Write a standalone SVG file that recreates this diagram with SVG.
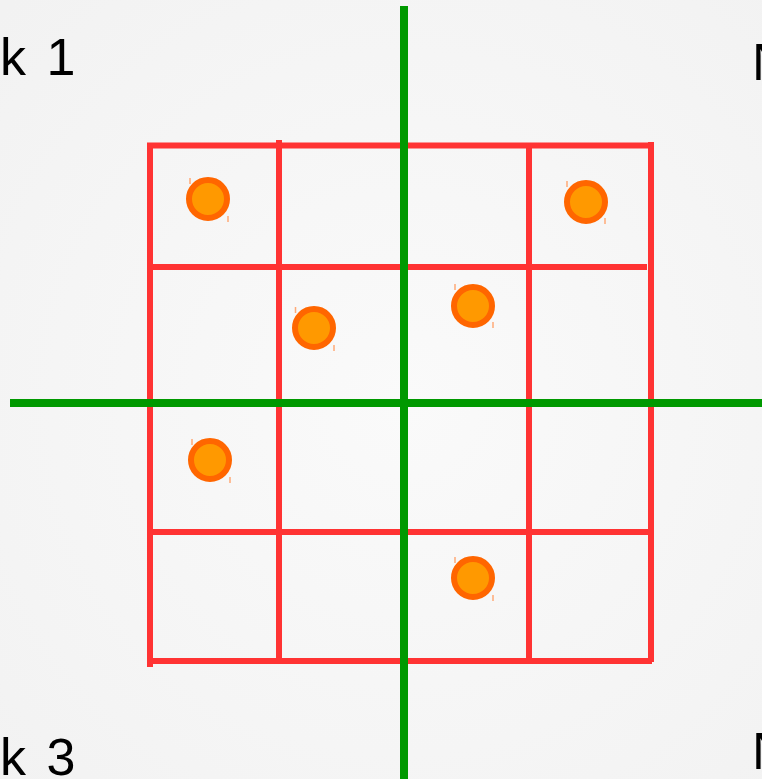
<svg xmlns="http://www.w3.org/2000/svg" width="762" height="779" viewBox="0 0 762 779">
<defs>
<radialGradient id="bg" cx="404" cy="403" r="560" gradientUnits="userSpaceOnUse">
<stop offset="0" stop-color="#fafafa"/>
<stop offset="1" stop-color="#f2f2f2"/>
</radialGradient>
</defs>
<style>
.lbl{font-family:"Liberation Sans",Arial,sans-serif;font-size:52px;fill:#000;word-spacing:6px}
.grid line{stroke:#ff3333;stroke-width:6;stroke-linecap:butt}
.axis line{stroke:#009900;stroke-width:8}
.dot circle{fill:#ff9900;stroke:#ff6600;stroke-width:6}
.dot line{stroke:#ffaa77;stroke-width:1.5}
</style>
<rect x="0" y="0" width="762" height="779" fill="url(#bg)"/>
<g id="labels">
<text class="lbl" x="0" y="75">k 1</text>
<text class="lbl" x="752" y="80">N</text>
<text class="lbl" x="0" y="775">k 3</text>
<text class="lbl" x="752" y="769">N</text>
</g>
<g id="grid" class="grid">
<line x1="150" y1="143" x2="150" y2="667"/>
<line x1="279" y1="140" x2="279" y2="660"/>
<line x1="529" y1="143" x2="529" y2="660"/>
<line x1="651" y1="142" x2="651" y2="662"/>
<line x1="147" y1="145.5" x2="654" y2="145.5"/>
<line x1="150" y1="267" x2="647" y2="267"/>
<line x1="150" y1="532" x2="649" y2="532"/>
<line x1="147" y1="661" x2="652" y2="661"/>
</g>
<g id="axes" class="axis">
<line x1="404" y1="6" x2="404" y2="779"/>
<line x1="10" y1="403" x2="762" y2="403"/>
</g>
<g id="dot1" class="dot"><circle cx="208" cy="199" r="19"/><line x1="190" y1="178" x2="190" y2="184"/><line x1="228" y1="216" x2="228" y2="222"/></g>
<g id="dot2" class="dot"><circle cx="586" cy="202" r="19"/><line x1="567" y1="181" x2="567" y2="187"/><line x1="605" y1="218" x2="605" y2="224"/></g>
<g id="dot3" class="dot"><circle cx="314" cy="328" r="19"/><line x1="295.5" y1="307" x2="295.5" y2="313"/><line x1="334" y1="345" x2="334" y2="351"/></g>
<g id="dot4" class="dot"><circle cx="473" cy="306" r="19"/><line x1="455" y1="284" x2="455" y2="290"/><line x1="493" y1="322" x2="493" y2="328"/></g>
<g id="dot5" class="dot"><circle cx="210" cy="460" r="19"/><line x1="192" y1="439" x2="192" y2="445"/><line x1="230" y1="477" x2="230" y2="483"/></g>
<g id="dot6" class="dot"><circle cx="473" cy="578" r="19"/><line x1="455" y1="557" x2="455" y2="563"/><line x1="493" y1="595" x2="493" y2="601"/></g>
</svg>
